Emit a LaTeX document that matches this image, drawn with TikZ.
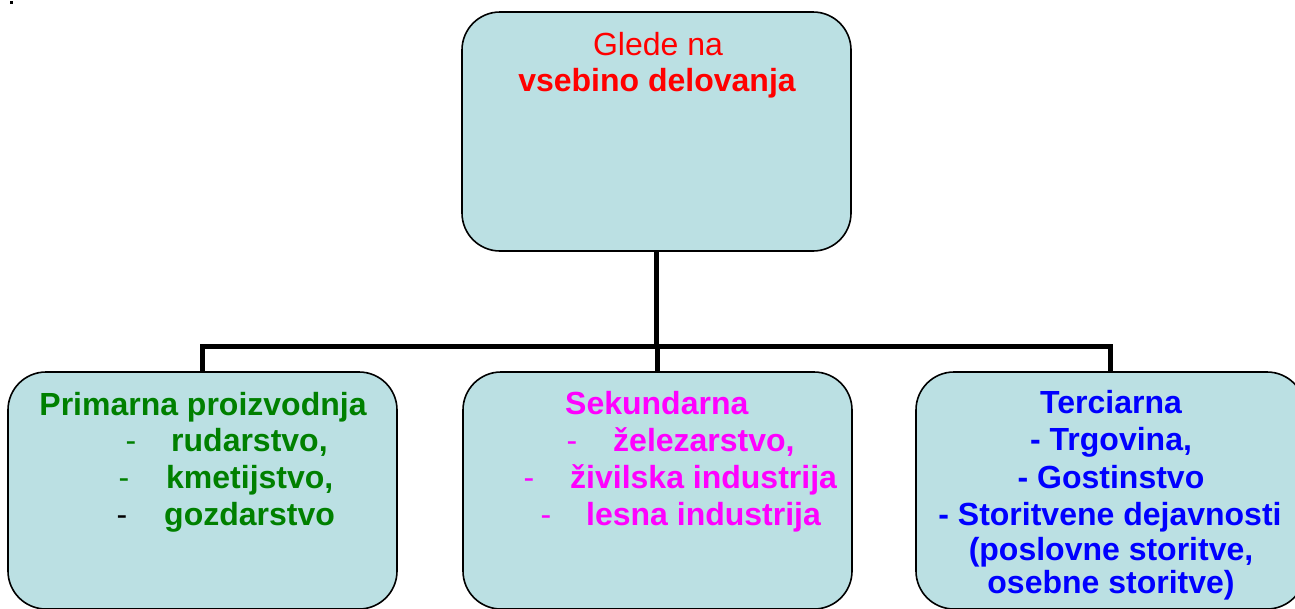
\documentclass[tikz,border=0pt]{standalone}
\usepackage{fontspec}
\setmainfont{Liberation Sans}
\definecolor{boxfill}{RGB}{187,224,227}
\definecolor{tgreen}{RGB}{0,128,0}
\definecolor{tmag}{RGB}{255,0,255}
\definecolor{tblue}{RGB}{0,0,255}
\definecolor{tred}{RGB}{255,0,0}
\tikzset{
  boxnode/.style={draw=black, line width=1.6pt, fill=boxfill, rounded corners=38pt,
    inner sep=0pt, minimum width=389pt, minimum height=239pt},
  conn/.style={line width=5pt, draw=black},
  txt/.style={inner sep=0pt, font=\fontsize{32}{36}\selectfont\bfseries},
  txtr/.style={inner sep=0pt, font=\fontsize{32}{36}\selectfont},
}
\begin{document}
\begin{tikzpicture}[x=1pt,y=-1pt]
\useasboundingbox (0,0) rectangle (1295,608);
\clip (0,0) rectangle (1295,608);
\fill (10,1) rectangle (13,4);
% boxes
\node[boxnode] (top) at (656.5,131.5) {};
\node[boxnode, minimum height=237pt] (lft) at (202.5,490.5) {};
\node[boxnode, minimum height=237pt] (mid) at (657.5,490.5) {};
\node[boxnode, minimum height=237pt] (rgt) at (1110.5,490.5) {};
% connectors
\coordinate (bus) at (0,346);
\draw[conn] (top.south) -- (top.south |- bus);
\draw[conn] (lft.north) -- (lft.north |- bus) -- (rgt.north |- bus) -- (rgt.north);
\draw[conn] (mid.north) -- (mid.north |- bus);
% top text
\node[txtr, text=tred, anchor=base] (t1) at (658,55) {Glede na};
\node[txt, text=tred, anchor=base] (t2) at (657,91) {vsebino delovanja};
% left
\node[txt, text=tgreen, anchor=base] (l0) at (203,415) {Primarna proizvodnja};
\node[txtr, text=tgreen, anchor=base west] (l1d) at (125.5,451) {-};
\node[txt, text=tgreen, anchor=base west] (l1) at (171,451) {rudarstvo,};
\node[txtr, text=tgreen, anchor=base west] (l2d) at (118.5,488) {-};
\node[txt, text=tgreen, anchor=base west] (l2) at (166,488) {kmetijstvo,};
\node[txtr, text=black, anchor=base west] (l3d) at (116.5,525) {-};
\node[txt, text=tgreen, anchor=base west] (l3) at (164,525) {gozdarstvo};
% middle
\node[txt, text=tmag, anchor=base west] (m0) at (565,414) {Sekundarna};
\node[txtr, text=tmag, anchor=base west] (m1d) at (566.5,451) {-};
\node[txt, text=tmag, anchor=base west] (m1) at (613,451) {železarstvo,};
\node[txtr, text=tmag, anchor=base west] (m2d) at (523.5,488) {-};
\node[txt, text=tmag, anchor=base west] (m2) at (570,488) {živilska industrija};
\node[txtr, text=tmag, anchor=base west] (m3d) at (540.5,525) {-};
\node[txt, text=tmag, anchor=base west] (m3) at (586,525) {lesna industrija};
% right
\node[txt, text=tblue, anchor=base] (r0) at (1111,413) {Terciarna};
\node[txt, text=tblue, anchor=base] (r1) at (1111,450) {- Trgovina,};
\node[txt, text=tblue, anchor=base] (r2) at (1111,488) {- Gostinstvo};
\node[txt, text=tblue, anchor=base] (r3) at (1110,525) {- Storitvene dejavnosti};
\node[txt, text=tblue, anchor=base] (r4) at (1111,560) {(poslovne storitve,};
\node[txt, text=tblue, anchor=base] (r5) at (1111,593) {osebne storitve)};
\end{tikzpicture}
\end{document}
